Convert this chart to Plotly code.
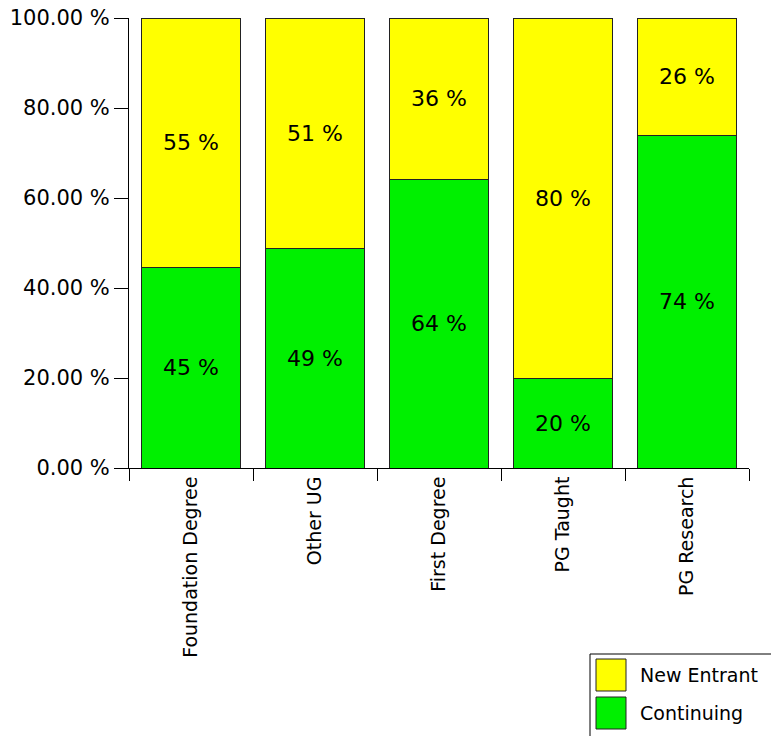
import plotly.graph_objects as go

categories = ["Foundation Degree", "Other UG", "First Degree", "PG Taught", "PG Research"]
continuing = [44.5, 48.7, 64.2, 19.8, 73.8]
new_entrant = [55.5, 51.3, 35.8, 80.2, 26.2]
continuing_labels = ["45 %", "49 %", "64 %", "20 %", "74 %"]
new_entrant_labels = ["55 %", "51 %", "36 %", "80 %", "26 %"]
y_tickvals = [0, 20, 40, 60, 80, 100]
y_ticktext = ["0.00 %", "20.00 %", "40.00 %", "60.00 %", "80.00 %", "100.00 %"]
series_names = ["New Entrant", "Continuing"]

FONT = "DejaVu Sans"
GREEN = "#00F000"
YELLOW = "#FFFF00"
EDGE = "#222222"

W, H = 771, 736
ML, MT = 129, 18
PW, PH = 620, 450
MR, MB = W - ML - PW, H - MT - PH


def px_x(p):
    return (p - ML) / PW


def px_y(p):
    return (MT + PH - p) / PH


fig = go.Figure()
fig.add_trace(go.Bar(
    name="Continuing", x=categories, y=continuing,
    text=continuing_labels, textposition="inside", insidetextanchor="middle",
    textangle=0, textfont=dict(family=FONT, size=22, color="black"),
    marker=dict(color=GREEN, line=dict(color=EDGE, width=1)),
    hoverinfo="skip", showlegend=False,
))
fig.add_trace(go.Bar(
    name="New Entrant", x=categories, y=new_entrant,
    text=new_entrant_labels, textposition="inside", insidetextanchor="middle",
    textangle=0, textfont=dict(family=FONT, size=22, color="black"),
    marker=dict(color=YELLOW, line=dict(color=EDGE, width=1)),
    hoverinfo="skip", showlegend=False,
))

# legend box (drawn manually to match large swatches)
shapes = [dict(type="rect", xref="paper", yref="paper",
               x0=px_x(590), x1=px_x(800), y0=px_y(654), y1=px_y(760),
               line=dict(color="black", width=1), fillcolor="white", layer="above")]
annotations = []
for i, (name, col) in enumerate(zip(series_names, [YELLOW, GREEN])):
    top = 659 + i * 38
    shapes.append(dict(type="rect", xref="paper", yref="paper",
                       x0=px_x(596), x1=px_x(626), y0=px_y(top), y1=px_y(top + 32),
                       line=dict(color=EDGE, width=1), fillcolor=col, layer="above"))
    annotations.append(dict(xref="paper", yref="paper", x=px_x(638), y=px_y(top + 16),
                            xanchor="left", yanchor="middle", text=name, showarrow=False,
                            font=dict(family=FONT, size=19, color="black")))

fig.update_layout(
    barmode="stack",
    bargap=0.2,
    width=W, height=H,
    margin=dict(l=ML, r=MR, t=MT, b=MB, autoexpand=False),
    paper_bgcolor="white", plot_bgcolor="white",
    font=dict(family=FONT, size=18, color="black"),
    uniformtext=dict(mode="show", minsize=10),
    showlegend=False,
    shapes=shapes,
    annotations=annotations,
)
fig.update_xaxes(
    type="category", tickson="boundaries",
    ticks="outside", ticklen=12, tickcolor="black", tickwidth=1,
    showline=True, linecolor="black", linewidth=1,
    tickangle=-90, tickfont=dict(family=FONT, size=19, color="black"),
    showgrid=False, automargin=False,
)
fig.update_yaxes(
    range=[0, 100], tickvals=y_tickvals, ticktext=y_ticktext,
    ticks="outside", ticklen=14, tickcolor="black", tickwidth=1,
    showline=True, linecolor="black", linewidth=1,
    tickfont=dict(family=FONT, size=21, color="black"),
    ticklabeloverflow="allow",
    showgrid=False, zeroline=False, automargin=False,
)

fig.write_html(
    "out.html",
    config={"displayModeBar": False, "staticPlot": True},
    post_script="document.body.style.margin='0';document.body.style.overflow='hidden';",
)
